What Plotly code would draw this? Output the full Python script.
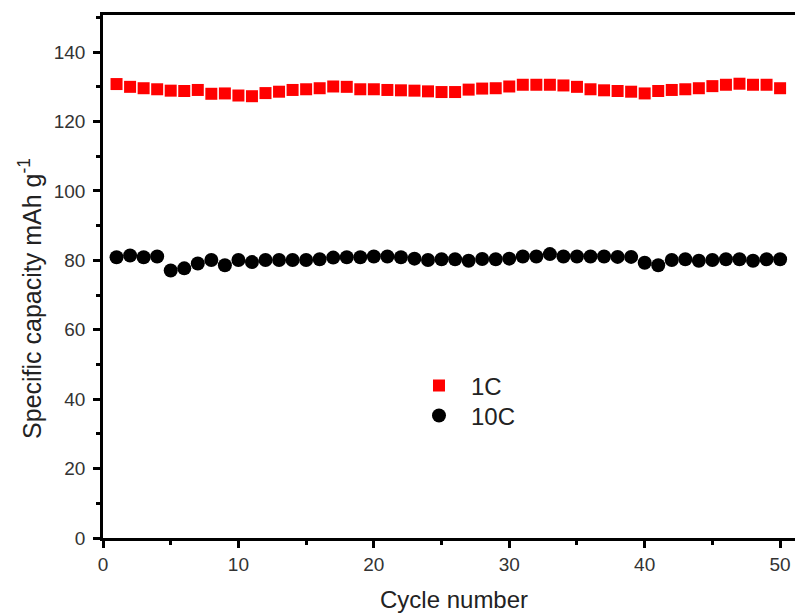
import plotly.graph_objects as go

cycles = list(range(1, 51))
cap_1c = [130.8, 130.0, 129.6, 129.3, 128.9, 128.8, 129.1, 128.0, 128.1, 127.5,
          127.3, 128.2, 128.6, 129.1, 129.3, 129.6, 130.1, 130.0, 129.3, 129.3,
          129.1, 129.0, 128.9, 128.7, 128.5, 128.5, 129.2, 129.5, 129.6, 130.1,
          130.6, 130.6, 130.6, 130.4, 130.0, 129.3, 129.0, 128.8, 128.6, 128.1,
          128.8, 129.1, 129.3, 129.6, 130.2, 130.6, 130.9, 130.6, 130.6, 129.6]
cap_10c = [80.9, 81.4, 80.9, 81.1, 77.1, 77.7, 79.1, 80.1, 78.6, 80.1,
           79.5, 80.1, 80.1, 80.1, 80.1, 80.3, 80.8, 80.9, 80.9, 81.1,
           81.1, 80.9, 80.5, 80.1, 80.3, 80.3, 79.9, 80.4, 80.3, 80.5,
           81.1, 81.1, 81.8, 81.1, 81.1, 81.1, 81.1, 81.0, 81.0, 79.3,
           78.6, 80.1, 80.3, 79.9, 80.1, 80.3, 80.3, 79.9, 80.3, 80.3]
x_ticks = [0, 10, 20, 30, 40, 50]
y_ticks = [0, 20, 40, 60, 80, 100, 120, 140]
x_title = "Cycle number"
y_title = "Specific capacity mAh g<sup>-1</sup>"

font_family = "Arial, Liberation Sans, sans-serif"

fig = go.Figure()
fig.add_trace(go.Scatter(x=cycles, y=cap_1c, mode="markers", name="1C", legend="legend",
                         marker=dict(symbol="square", size=12, color="#ff0000",
                                     line=dict(width=0))))
fig.add_trace(go.Scatter(x=cycles, y=cap_10c, mode="markers", name="10C", legend="legend2",
                         marker=dict(symbol="circle", size=14, color="#000000",
                                     line=dict(width=0))))

leg_common = dict(xanchor="left", yanchor="top", bgcolor="rgba(0,0,0,0)",
                  font=dict(size=24, color="#222222"), itemwidth=54, itemsizing="trace")

fig.update_layout(
    width=795, height=613,
    margin=dict(l=103, r=0, t=15, b=75),
    paper_bgcolor="white", plot_bgcolor="white",
    font=dict(family=font_family, size=19, color="#333333"),
    showlegend=True,
    legend=dict(x=0.4393, y=0.3338, **leg_common),
    legend2=dict(x=0.4393, y=0.2765, **leg_common),
)
fig.update_xaxes(
    range=[0, 51.1], tickmode="array", tickvals=x_ticks,
    ticks="outside", ticklen=7, tickwidth=2.5, tickcolor="black",
    showline=True, linecolor="black", linewidth=2.5, mirror=True,
    showgrid=False, zeroline=False,
    minor=dict(tickvals=[5, 15, 25, 35, 45], ticks="outside", ticklen=4,
               tickwidth=2.5, tickcolor="black", showgrid=False),
    tickfont=dict(size=19, color="#333333"),
)
fig.update_yaxes(
    range=[0, 150.7], tickmode="array", tickvals=y_ticks,
    ticks="outside", ticklen=7, tickwidth=2.5, tickcolor="black",
    showline=True, linecolor="black", linewidth=2.5, mirror=False,
    showgrid=False, zeroline=False,
    minor=dict(tickvals=[10, 30, 50, 70, 90, 110, 130, 150], ticks="outside", ticklen=4,
               tickwidth=2.5, tickcolor="black", showgrid=False),
    tickfont=dict(size=19, color="#333333"),
    ticklabelstandoff=4,
)
fig.add_annotation(text=x_title, xref="paper", yref="paper", x=0.507, y=-0.117,
                   xanchor="center", yanchor="middle", showarrow=False,
                   font=dict(size=24, color="#222222"))
fig.add_annotation(text=y_title, xref="paper", yref="paper", x=-0.1055, y=0.459,
                   xanchor="center", yanchor="middle", showarrow=False, textangle=-90,
                   font=dict(size=25, color="#222222"))

fig.write_html("out.html")
